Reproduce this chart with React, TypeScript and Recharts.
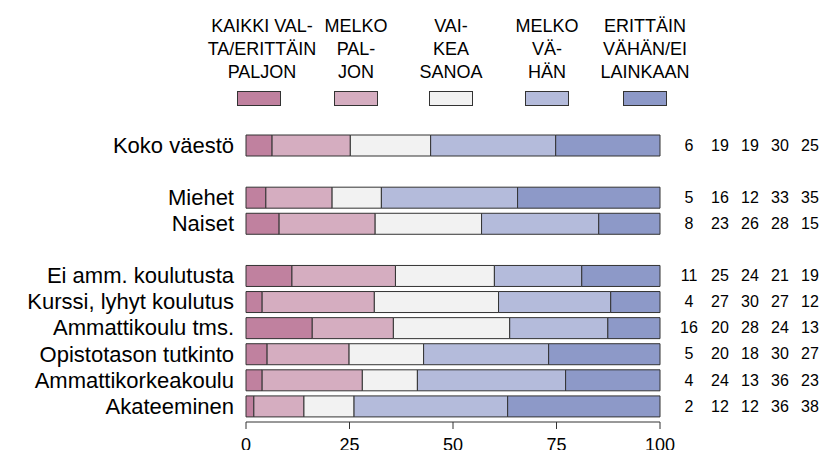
import React from 'react';
import { BarChart, Bar, XAxis, YAxis, Legend } from 'recharts';

const categories = [
  'Koko väestö', '', 'Miehet', 'Naiset', '',
  'Ei amm. koulutusta', 'Kurssi, lyhyt koulutus', 'Ammattikoulu tms.',
  'Opistotason tutkinto', 'Ammattikorkeakoulu', 'Akateeminen',
];

// bar segment values (percent)
const s1 = [6.3, null, 4.8, 8.0, null, 11.1, 3.9, 16.0, 5.1, 3.9, 1.9];
const s2 = [18.9, null, 16.0, 23.2, null, 25.0, 27.1, 19.6, 19.8, 24.2, 12.1];
const s3 = [19.4, null, 11.9, 25.7, null, 23.9, 30.0, 28.1, 18.0, 13.3, 12.1];
const s4 = [30.2, null, 32.9, 28.3, null, 21.1, 27.1, 23.7, 30.2, 35.8, 37.1];
const s5 = [25.2, null, 34.4, 14.8, null, 18.9, 11.9, 12.6, 26.9, 22.8, 36.8];

// printed (rounded) values on the right
const p1 = [6, null, 5, 8, null, 11, 4, 16, 5, 4, 2];
const p2 = [19, null, 16, 23, null, 25, 27, 20, 20, 24, 12];
const p3 = [19, null, 12, 26, null, 24, 30, 28, 18, 13, 12];
const p4 = [30, null, 33, 28, null, 21, 27, 24, 30, 36, 36];
const p5 = [25, null, 35, 15, null, 19, 12, 13, 27, 23, 38];

const legendLabels = [
  ['KAIKKI VAL-', 'TA/ERITTÄIN', 'PALJON'],
  ['MELKO', 'PAL-', 'JON'],
  ['VAI-', 'KEA', 'SANOA'],
  ['MELKO', 'VÄ-', 'HÄN'],
  ['ERITTÄIN', 'VÄHÄN/EI', 'LAINKAAN'],
];

const xTicks = [0, 25, 50, 75, 100];

const colors = ['#c0819f', '#d5adc0', '#f2f2f2', '#b4bbdb', '#8d99c8'];
const keys = ['s1', 's2', 's3', 's4', 's5'];
const printed = [p1, p2, p3, p4, p5];

const data = categories.map((name, i) => ({
  name,
  s1: s1[i], s2: s2[i], s3: s3[i], s4: s4[i], s5: s5[i],
}));

const FONT = '"Liberation Sans", Arial, Helvetica, sans-serif';
const STROKE = '#333333';

const legendCenters = [259, 356, 451, 547, 645];
const legendTextShift = [3, 0, 0, 0, 0];
const numCols = [29, 60, 90, 120, 150];

function LeftTick(props: any) {
  const { x, y, payload } = props;
  if (!payload || !payload.value) return null;
  return (
    <text x={x} y={y} dy="0.355em" textAnchor="end" fontSize={22} fill="#000" fontFamily={FONT}>
      {payload.value}
    </text>
  );
}

function RightTick(props: any) {
  const { x, y, index } = props;
  if (printed[0][index] == null) return null;
  return (
    <g>
      {printed.map((arr, k) => (
        <text key={k} x={x + numCols[k]} y={y} dy="0.355em" textAnchor="middle" fontSize={16} fill="#000" fontFamily={FONT}>
          {arr[index]}
        </text>
      ))}
    </g>
  );
}

function renderLegend() {
  return (
    <div style={{ position: 'relative', width: 825, height: 132, fontFamily: FONT, fontSize: 18, color: '#000' }}>
      {legendLabels.map((lines, i) => (
        <React.Fragment key={i}>
          {lines.map((ln, j) => (
            <div
              key={j}
              style={{
                position: 'absolute',
                left: legendCenters[i] + legendTextShift[i] - 70,
                width: 140,
                top: 15 + j * 23,
                lineHeight: '23px',
                textAlign: 'center',
                whiteSpace: 'nowrap',
              }}
            >
              {ln}
            </div>
          ))}
          <div
            style={{
              position: 'absolute',
              left: legendCenters[i] - 22,
              top: 91,
              width: 44,
              height: 15,
              boxSizing: 'border-box',
              border: `1px solid ${STROKE}`,
              background: colors[i],
            }}
          />
        </React.Fragment>
      ))}
    </div>
  );
}

export default function App() {
  return (
    <div style={{ position: 'absolute', left: 0, top: 0, width: 825, height: 450, background: '#fff' }}>
      <BarChart
        width={825}
        height={450}
        data={data}
        layout="vertical"
        margin={{ top: 0, right: 0, bottom: 0, left: 0 }}
      >
        <Legend
          verticalAlign="top"
          align="left"
          wrapperStyle={{ top: 0, left: 0, width: 825, height: 132 }}
          content={renderLegend}
        />
        <XAxis
          type="number"
          domain={[0, 100]}
          ticks={xTicks}
          interval={0}
          height={28}
          tickSize={7}
          tickMargin={9}
          stroke={STROKE}
          tick={{ fontSize: 18, fill: '#000', fontFamily: FONT }}
        />
        <YAxis
          yAxisId="left"
          type="category"
          dataKey="name"
          width={246}
          axisLine={false}
          tickLine={false}
          tickSize={0}
          tickMargin={12}
          interval={0}
          padding={{ top: 0, bottom: 3 }}
          tick={<LeftTick />}
        />
        <YAxis
          yAxisId="right"
          orientation="right"
          type="category"
          dataKey="name"
          width={165}
          axisLine={false}
          tickLine={false}
          tickSize={0}
          tickMargin={0}
          interval={0}
          padding={{ top: 0, bottom: 3 }}
          tick={<RightTick />}
        />
        {keys.map((k, i) => (
          <Bar
            key={k}
            yAxisId="left"
            dataKey={k}
            stackId="a"
            fill={colors[i]}
            stroke={STROKE}
            strokeWidth={1}
            barSize={21}
            isAnimationActive={false}
          />
        ))}
      </BarChart>
    </div>
  );
}
